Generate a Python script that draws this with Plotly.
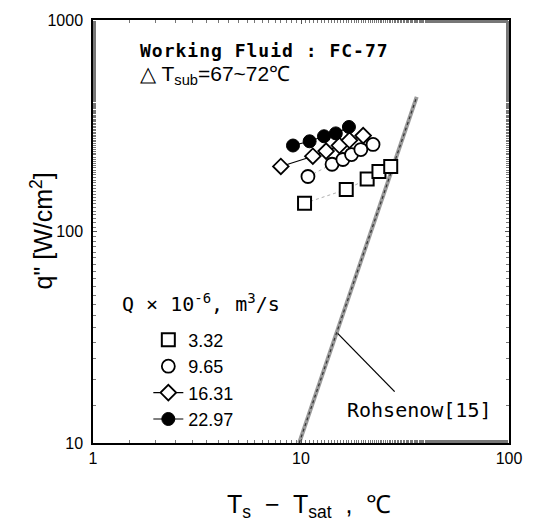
import plotly.graph_objects as go

# ---- data ----
series_labels = ["3.32", "9.65", "16.31", "22.97"]

sq_x = [10.4, 16.5, 20.8, 23.7, 27.0]
sq_y = [136, 158, 177, 192, 203]

ci_x = [10.8, 14.1, 15.9, 17.5, 19.4, 22.2]
ci_y = [182, 208, 219, 231, 244, 258]

di_x = [8.0, 11.4, 13.2, 15.3, 17.1, 19.9]
di_y = [203, 227, 240, 255, 270, 284]

fc_x = [9.15, 11.0, 12.9, 14.7, 17.0]
fc_y = [255, 267, 282, 291, 312]

rohsenow_x = [9.8, 36.0]
rohsenow_y = [10, 433]

leader_x = [15.0, 28.2]
leader_y = [33, 17.5]

x_ticks = [1, 10, 100]
y_ticks = [10, 100, 1000]

MONO = "DejaVu Sans Mono"
SANS = "Liberation Sans, Arial, sans-serif"

fig = go.Figure()

# Rohsenow correlation (grey textured line)
fig.add_trace(go.Scatter(x=rohsenow_x, y=rohsenow_y, mode="lines",
                         line=dict(color="#9a9a9a", width=4), showlegend=False, hoverinfo="skip"))
fig.add_trace(go.Scatter(x=rohsenow_x, y=rohsenow_y, mode="lines",
                         line=dict(color="#333333", width=1.2, dash="dot"), showlegend=False, hoverinfo="skip"))
# leader line to the label
fig.add_trace(go.Scatter(x=leader_x, y=leader_y, mode="lines",
                         line=dict(color="black", width=1.3), showlegend=False, hoverinfo="skip"))

# faint connectors for the open-marker series
fig.add_trace(go.Scatter(x=sq_x, y=sq_y, mode="lines",
                         line=dict(color="#b0b0b0", width=1, dash="dot"), showlegend=False, hoverinfo="skip"))
fig.add_trace(go.Scatter(x=ci_x, y=ci_y, mode="lines",
                         line=dict(color="#b0b0b0", width=1, dash="dot"), showlegend=False, hoverinfo="skip"))

fig.add_trace(go.Scatter(x=sq_x, y=sq_y, mode="markers", name=series_labels[0],
                         marker=dict(symbol="square", size=13, color="white",
                                     line=dict(color="black", width=2))))
fig.add_trace(go.Scatter(x=ci_x, y=ci_y, mode="markers", name=series_labels[1],
                         marker=dict(symbol="circle", size=13, color="white",
                                     line=dict(color="black", width=1.8))))
fig.add_trace(go.Scatter(x=di_x, y=di_y, mode="lines+markers", name=series_labels[2],
                         line=dict(color="black", width=1.2),
                         marker=dict(symbol="diamond", size=12, color="white",
                                     line=dict(color="black", width=1.8))))
fig.add_trace(go.Scatter(x=fc_x, y=fc_y, mode="lines+markers", name=series_labels[3],
                         line=dict(color="black", width=1.2),
                         marker=dict(symbol="circle", size=13, color="black",
                                     line=dict(color="black", width=1))))

axis_common = dict(
    type="log", showline=True, linecolor="black", linewidth=1.5, mirror="ticks",
    ticks="inside", ticklen=4, tickcolor="#555", showgrid=False, zeroline=False,
    tickfont=dict(family=SANS, size=16, color="black"),
    minor=dict(ticks="inside", ticklen=3, tickcolor="#777", showgrid=False),
)

fig.update_xaxes(range=[0, 2], tickvals=x_ticks, ticktext=[str(v) for v in x_ticks], **axis_common)
fig.update_yaxes(range=[1, 3], tickvals=y_ticks, ticktext=[str(v) for v in y_ticks],
                 ticklabelstandoff=5, **axis_common)

annotations = [
    dict(text="<b><span style=\"letter-spacing:1px\">Working Fluid : FC-77</span></b>",
         x=0.108, y=0.928, xanchor="left", yanchor="middle",
         font=dict(family=MONO, size=18, color="black")),
    dict(text="△ T<sub>sub</sub>=67~72℃", x=0.108, y=0.869, xanchor="left", yanchor="middle",
         font=dict(family=SANS, size=21, color="black")),
    dict(text="Q × 10<sup>-6</sup>, m<sup>3</sup>/s", x=0.064, y=0.33, xanchor="left", yanchor="middle",
         font=dict(family=MONO, size=20, color="black")),
    dict(text="Rohsenow[15]", x=0.605, y=0.077, xanchor="left", yanchor="middle",
         font=dict(family=MONO, size=20, color="black")),
    dict(text="T<sub>s</sub>  −  T<sub>sat</sub>  ,  ℃", x=0.52, y=-0.15, xanchor="center", yanchor="middle",
         font=dict(family=SANS, size=25, color="black")),
    dict(text="q\" [W/cm<sup>2</sup>]", x=-0.125, y=0.5, xanchor="center", yanchor="middle",
         textangle=-90, font=dict(family=SANS, size=25, color="black")),
]
for a in annotations:
    a.update(xref="paper", yref="paper", showarrow=False)

fig.update_layout(
    width=537, height=532,
    margin=dict(l=93, r=28, t=16, b=89),
    paper_bgcolor="white", plot_bgcolor="white",
    annotations=annotations,
    legend=dict(x=0.133, y=0.287, xanchor="left", yanchor="top",
                bgcolor="rgba(0,0,0,0)", borderwidth=0,
                font=dict(family=SANS, size=18, color="black"),
                tracegroupgap=0),
    showlegend=True,
)

fig.write_html("out.html", config={"displayModeBar": False})
